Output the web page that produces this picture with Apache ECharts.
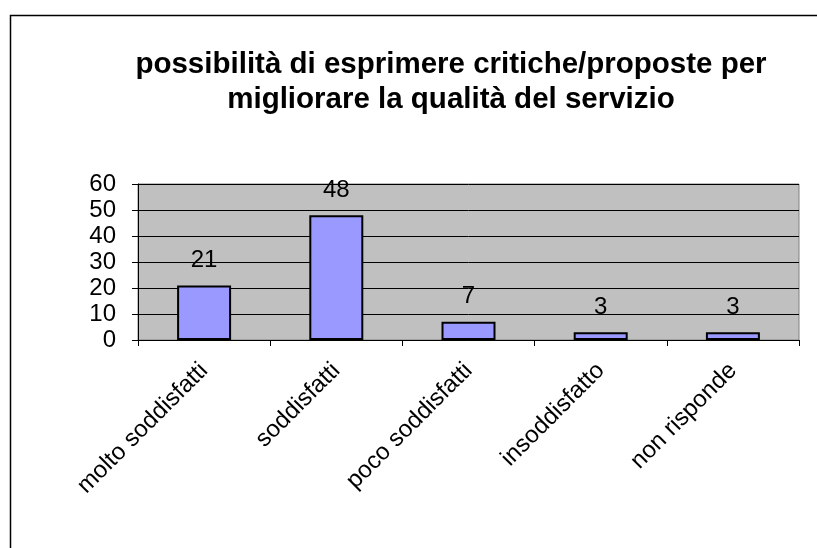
<!DOCTYPE html>
<html><head><meta charset="utf-8">
<script src="https://cdn.jsdelivr.net/npm/echarts@6/dist/echarts.min.js"></script>
<style>html,body{margin:0;padding:0;background:#fff}#c{width:817px;height:548px}</style>
</head><body><div id="c"></div>
<script>
const categories = ["molto soddisfatti", "soddisfatti", "poco soddisfatti", "insoddisfatto", "non risponde"];
const values = [21, 48, 7, 3, 3];
const yTicks = [0, 10, 20, 30, 40, 50, 60];
const titleText = "possibilità di esprimere critiche/proposte per\nmigliorare la qualità del servizio";

const chart = echarts.init(document.getElementById('c'), null, {renderer: 'canvas'});
const font = 'Arial, "Liberation Sans", sans-serif';
chart.setOption({
  animation: false,
  backgroundColor: '#fff',
  graphic: [{
    type: 'rect', left: 8, top: 13, z: 100, silent: true,
    shape: {width: 830, height: 560},
    style: {fill: 'none', stroke: '#000', lineWidth: 1.5}
  }],
  title: {
    text: titleText, left: 446, top: 42, textAlign: 'center',
    textStyle: {fontFamily: font, fontWeight: 'bold', fontSize: 29.5, color: '#000', lineHeight: 35}
  },
  grid: {left: 138, top: 184, right: 18, bottom: 208, show: true, backgroundColor: '#C0C0C0', borderColor: '#808080', borderWidth: 1},
  xAxis: {
    type: 'category', data: categories,
    axisLine: {lineStyle: {color: '#000', width: 1}},
    axisTick: {show: true, alignWithLabel: false, length: 6, lineStyle: {color: '#000'}},
    axisLabel: {rotate: 45, interval: 0, margin: 27, fontFamily: font, fontSize: 24, color: '#000'}
  },
  yAxis: {
    type: 'value', min: yTicks[0], max: yTicks[yTicks.length - 1], interval: 10,
    axisLine: {show: true, lineStyle: {color: '#000'}},
    axisTick: {show: true, length: 6, lineStyle: {color: '#000'}},
    axisLabel: {margin: 22, fontFamily: font, fontSize: 24, color: '#000'},
    splitLine: {show: true, lineStyle: {color: '#000', width: 1}}
  },
  series: [{
    type: 'bar', data: values, barWidth: 54,
    itemStyle: {color: '#9999FF', borderColor: '#000', borderWidth: 2},
    label: {show: true, position: 'top', distance: 13, fontFamily: font, fontSize: 24, color: '#000'}
  }]
});
</script></body></html>
